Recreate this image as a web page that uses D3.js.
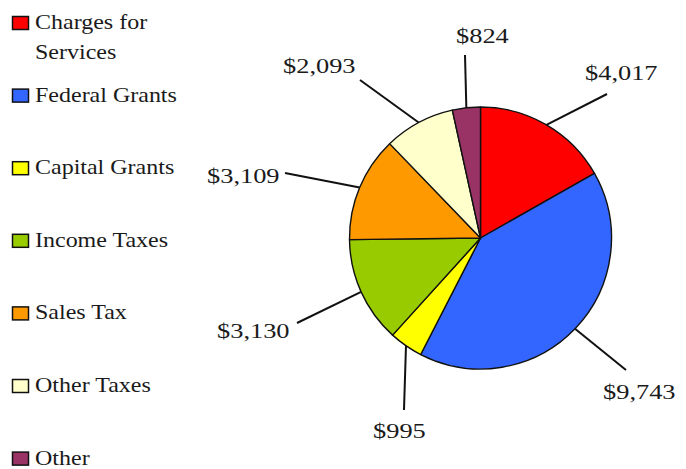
<!DOCTYPE html>
<html><head><meta charset="utf-8">
<script src="https://cdn.jsdelivr.net/npm/d3@7"></script>
<style>html,body{margin:0;padding:0;background:#fff;}svg{display:block;}</style>
</head><body>
<svg id="chart" width="686" height="469"></svg>
<script>
// Data
const categories = ["Charges for Services","Federal Grants","Capital Grants","Income Taxes","Sales Tax","Other Taxes","Other"];
const values = [4017, 9743, 995, 3130, 3109, 2093, 824];
const colors = ["#FF0000","#3366FF","#FFFF00","#99CC00","#FF9900","#FFFFCC","#993366"];
const legendLines = [["Charges for","Services"],["Federal Grants"],["Capital Grants"],["Income Taxes"],["Sales Tax"],["Other Taxes"],["Other"]];

// Layout (label text left x / baseline y, and leader line outer end)
const labelPos = [[585,80],[603,399],[373,438],[217,338],[207,183],[283,73],[456,43]];
const leaderEnd = [[607,94],[626,370],[404,410],[297,323],[285,173],[360,80],[465,55]];

const svg = d3.select("#chart");
const cx = 480.5, cy = 238, r = 131;
const fmt = d3.format("$,");
const sx = 1.2;

const pie = d3.pie().sort(null).value(d => d)(values);
const arc = d3.arc().innerRadius(0).outerRadius(r);

const g = svg.append("g").attr("transform", `translate(${cx},${cy})`);
g.selectAll("path").data(pie).join("path")
  .attr("d", arc)
  .attr("fill", (d,i) => colors[i])
  .attr("stroke", "#111")
  .attr("stroke-width", 1.4)
  .attr("stroke-linejoin", "round");

// leader lines
pie.forEach((d,i) => {
  const a = (d.startAngle + d.endAngle) / 2;
  const x0 = cx + r * Math.sin(a), y0 = cy - r * Math.cos(a);
  svg.append("line")
    .attr("x1", x0).attr("y1", y0)
    .attr("x2", leaderEnd[i][0]).attr("y2", leaderEnd[i][1])
    .attr("stroke", "#111").attr("stroke-width", 2);
  svg.append("text")
    .attr("transform", `translate(${labelPos[i][0]},${labelPos[i][1]}) scale(${sx},1)`)
    .attr("font-family", "'Liberation Serif','Times New Roman',serif")
    .attr("font-size", 22)
    .attr("fill", "#1a1a1a")
    .text(fmt(values[i]));
});

// legend
const y0 = 29, step = 72.6;
categories.forEach((c,i) => {
  const by = y0 + i * step;
  svg.append("rect")
    .attr("x", 12.5).attr("y", by - 12.5)
    .attr("width", 16).attr("height", 13)
    .attr("fill", colors[i]).attr("stroke", "#111").attr("stroke-width", 1.5);
  legendLines[i].forEach((t,j) => {
    svg.append("text")
      .attr("transform", `translate(35,${by + j * 30}) scale(${sx},1)`)
      .attr("font-family", "'Liberation Serif','Times New Roman',serif")
      .attr("font-size", 20)
      .attr("fill", "#1a1a1a")
      .text(t);
  });
});
</script>
</body></html>
